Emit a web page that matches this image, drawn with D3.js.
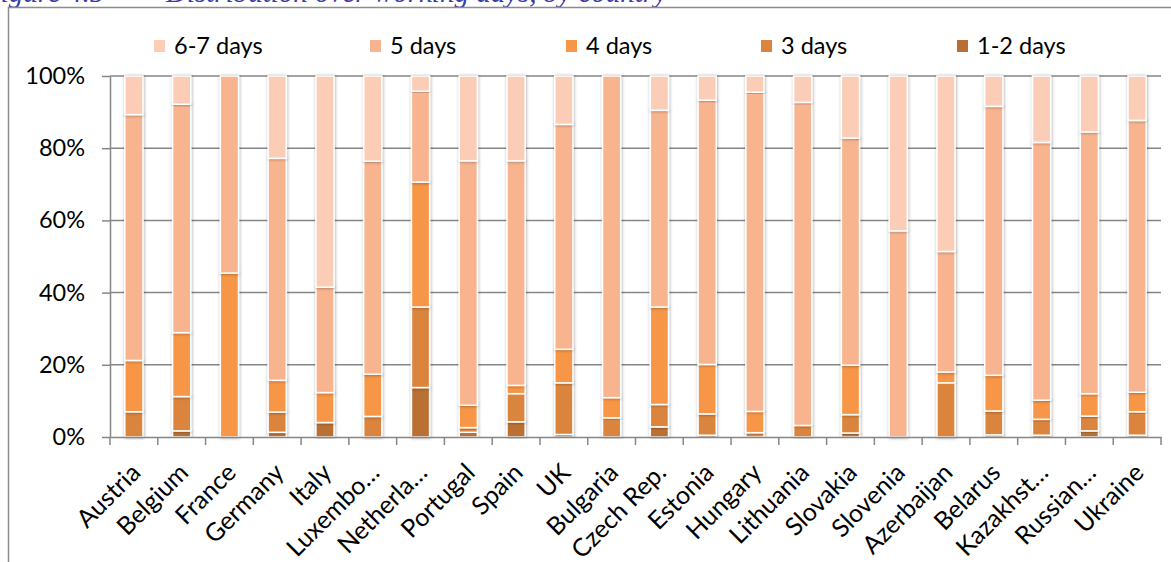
<!DOCTYPE html>
<html>
<head>
<meta charset="utf-8">
<script src="https://cdn.jsdelivr.net/npm/d3@7"></script>
<style>
  html, body { margin: 0; padding: 0; background: #fff; }
  svg { display: block; }
</style>
</head>
<body>
<svg id="chart" width="1171" height="562"></svg>
<script>
// Share of workers by number of working days per week, by country
const countries = ["Austria", "Belgium", "France", "Germany", "Italy", "Luxembo…", "Netherla…",
  "Portugal", "Spain", "UK", "Bulgaria", "Czech Rep.", "Estonia", "Hungary", "Lithuania",
  "Slovakia", "Slovenia", "Azerbaijan", "Belarus", "Kazakhst…", "Russian…", "Ukraine"];

const days12 = [0, 1.7, 0, 1.3, 4.0, 0, 13.7, 1.3, 4.2, 0.7, 0, 2.8, 0.5, 0, 0, 1.1, 0, 0, 0.6, 0.5, 1.7, 0.5];
const days3  = [7.0, 9.5, 0, 5.6, 0, 5.7, 22.3, 1.3, 7.8, 14.3, 5.3, 6.2, 5.9, 1.2, 3.2, 5.1, 0, 15.0, 6.6, 4.4, 4.1, 6.5];
const days4  = [14.2, 17.7, 45.4, 8.8, 8.3, 11.7, 34.6, 6.2, 2.3, 9.3, 5.6, 27.0, 13.7, 5.9, 0, 13.7, 0, 3.0, 9.9, 5.3, 6.2, 5.4];
const days5  = [68.1, 63.3, 54.6, 61.5, 29.2, 59.0, 25.2, 67.7, 62.2, 62.3, 89.1, 54.5, 73.2, 88.4, 89.5, 62.9, 57.1, 33.4, 74.5, 71.4, 72.5, 75.3];
const days67 = [10.7, 7.8, 0, 22.8, 58.5, 23.6, 4.2, 23.5, 23.5, 13.4, 0, 9.5, 6.7, 4.5, 7.3, 17.2, 42.9, 48.6, 8.4, 18.4, 15.5, 12.3];

const seriesNames = ["1-2 days", "3 days", "4 days", "5 days", "6-7 days"];
const legendOrder = ["6-7 days", "5 days", "4 days", "3 days", "1-2 days"];
const yTicks = [0, 0.2, 0.4, 0.6, 0.8, 1];

const colors = {
  "1-2 days": "#B96F33",
  "3 days": "#DB843D",
  "4 days": "#F79646",
  "5 days": "#F8B48F",
  "6-7 days": "#FBCDB7"
};

const rows = countries.map((c, i) => ({
  country: c,
  "1-2 days": days12[i],
  "3 days": days3[i],
  "4 days": days4[i],
  "5 days": days5[i],
  "6-7 days": days67[i]
}));

const svg = d3.select("#chart");
const W = 1171, H = 562;
const margin = { left: 110, top: 76 };
const plotRight = 1161, plotBottom = 437;
const uiFont = "Lato, 'Open Sans', sans-serif";

// shadow around the bars
const defs = svg.append("defs");
const f = defs.append("filter").attr("id", "barShadow")
  .attr("x", "-50%").attr("y", "-10%").attr("width", "200%").attr("height", "120%");
f.append("feDropShadow").attr("dx", 0.5).attr("dy", 0.5)
  .attr("stdDeviation", 1.4).attr("flood-color", "#000").attr("flood-opacity", 0.35);

// title line, running off the top edge
const titleStyle = sel => sel
  .attr("font-family", "Liberation Serif, serif")
  .attr("font-style", "italic")
  .attr("font-size", 29)
  .attr("fill", "#3B3BA8");
svg.append("text").attr("x", -17).attr("y", 2).call(titleStyle).text("Figure 4.5");
svg.append("text").attr("x", 166).attr("y", 2).call(titleStyle)
  .text("Distribution over working days, by country");

// chart frame
svg.append("rect")
  .attr("x", 8.5).attr("y", 7.5)
  .attr("width", W + 20).attr("height", H + 20)
  .attr("fill", "none").attr("stroke", "#8C8C8C").attr("stroke-width", 1.5);

const x = d3.scaleBand().domain(countries).range([margin.left, plotRight]).padding(0);
const y = d3.scaleLinear().domain([0, 1]).range([plotBottom, margin.top]);

// gridlines
svg.append("g")
  .selectAll("line").data(yTicks.filter(t => t > 0)).join("line")
  .attr("x1", margin.left).attr("x2", plotRight)
  .attr("y1", d => y(d)).attr("y2", d => y(d))
  .attr("stroke", "#868686").attr("stroke-width", 1.5);

// y axis
const yAxis = svg.append("g")
  .attr("transform", `translate(${margin.left},0)`)
  .call(d3.axisLeft(y).tickValues(yTicks).tickFormat(d3.format(".0%")).tickSize(8).tickSizeOuter(0));
yAxis.select(".domain").attr("stroke", "#868686").attr("stroke-width", 1.5);
yAxis.selectAll(".tick line").attr("stroke", "#868686").attr("stroke-width", 1.5);
yAxis.selectAll(".tick text")
  .attr("x", -25)
  .attr("font-family", uiFont)
  .attr("font-size", 23.5).attr("fill", "#000");

// stacked bars
const stack = d3.stack().keys(seriesNames).offset(d3.stackOffsetExpand);
const stacked = stack(rows);
const barW = x.bandwidth() * 0.38;

svg.append("g")
  .selectAll("g").data(stacked).join("g")
  .attr("fill", d => colors[d.key])
  .selectAll("rect").data(d => d.filter(s => s[1] - s[0] > 0)).join("rect")
  .attr("x", d => x(d.data.country) + (x.bandwidth() - barW) / 2)
  .attr("y", d => y(d[1]))
  .attr("width", barW)
  .attr("height", d => y(d[0]) - y(d[1]))
  .attr("stroke", "#fff").attr("stroke-width", 1.5)
  .attr("filter", "url(#barShadow)");

// x axis
const xAxis = svg.append("g")
  .attr("transform", `translate(0,${plotBottom})`)
  .call(d3.axisBottom(x).tickSize(0).tickSizeOuter(0));
xAxis.select(".domain").attr("stroke", "#868686").attr("stroke-width", 1.5);
// tick marks at category boundaries
xAxis.selectAll(".sep").data(d3.range(countries.length + 1)).join("line")
  .attr("class", "sep")
  .attr("x1", i => margin.left + i * x.step()).attr("x2", i => margin.left + i * x.step())
  .attr("y1", 0).attr("y2", 8)
  .attr("stroke", "#868686").attr("stroke-width", 1.5);
xAxis.selectAll(".tick text")
  .attr("font-family", uiFont)
  .attr("font-size", 25).attr("fill", "#000")
  .attr("text-anchor", "end")
  .attr("transform", "translate(2,31) rotate(-45)")
  .attr("dy", "0.35em").attr("y", 0);

// legend
const legendX = [154, 370, 566, 761, 957];
const legend = svg.append("g");
legendOrder.forEach((k, i) => {
  const g = legend.append("g").attr("transform", `translate(${legendX[i]},46)`);
  g.append("rect").attr("x", 0).attr("y", -6).attr("width", 11).attr("height", 12).attr("fill", colors[k]);
  g.append("text").attr("x", 20).attr("y", 0).attr("dy", "0.35em")
    .attr("font-family", uiFont)
    .attr("font-size", 23.5).attr("fill", "#000").text(k);
});
</script>
</body>
</html>
